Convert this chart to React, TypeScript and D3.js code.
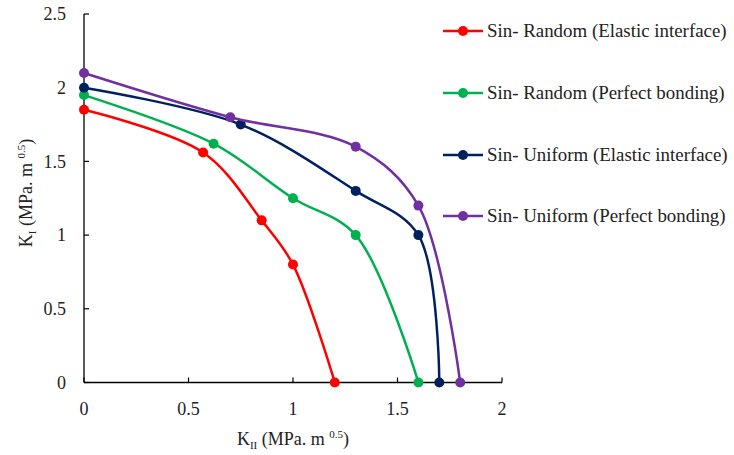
import * as d3 from "d3";

const seriesNames = [
  "Sin- Random (Elastic interface)",
  "Sin- Random (Perfect bonding)",
  "Sin- Uniform (Elastic interface)",
  "Sin- Uniform (Perfect bonding)",
];
const seriesColors = ["#ff0000", "#00b050", "#002060", "#7030a0"];

// K_II values (x) and K_I values (y) for each series
const kII = [
  [0, 0.57, 0.85, 1.0, 1.2],
  [0, 0.62, 1.0, 1.3, 1.6],
  [0, 0.75, 1.3, 1.6, 1.7],
  [0, 0.7, 1.3, 1.6, 1.8],
];
const kI = [
  [1.85, 1.56, 1.1, 0.8, 0],
  [1.95, 1.62, 1.25, 1.0, 0],
  [2.0, 1.75, 1.3, 1.0, 0],
  [2.1, 1.8, 1.6, 1.2, 0],
];
const xTicks = [0, 0.5, 1, 1.5, 2];
const yTicks = [0, 0.5, 1, 1.5, 2, 2.5];

const W = 734;
const H = 455;
const FONT = "'Liberation Serif', 'DejaVu Serif', serif";
const TXT = { fontFamily: FONT };

export default function App() {
  const x = d3.scaleLinear().domain([0, 2]).range([84, 502]);
  const y = d3.scaleLinear().domain([0, 2.5]).range([382.5, 14]);
  const line = d3
    .line<[number, number]>()
    .x((d) => x(d[0]))
    .y((d) => y(d[1]))
    .curve(d3.curveCatmullRom.alpha(0.5));

  const legendY = [31, 93, 155, 216];

  return (
    <svg
      width={W}
      height={H}
      style={{ position: "absolute", left: 0, top: 0, background: "#fff" }}
    >
      <rect width={W} height={H} fill="#fff" />

      {/* axes */}
      <line x1={x(0)} x2={x(0)} y1={y(0)} y2={y(2.5)} stroke="#000" strokeWidth={1.3} />
      <line x1={x(0)} x2={x(2)} y1={y(0)} y2={y(0)} stroke="#000" strokeWidth={1.3} />
      {yTicks.map((t) => (
        <g key={"y" + t}>
          <line x1={x(0)} x2={x(0) + 5} y1={y(t)} y2={y(t)} stroke="#000" strokeWidth={1.2} />
          <text x={66} y={y(t)} dy="0.35em" textAnchor="end" fontSize={18} fill="#222" style={TXT}>
            {t}
          </text>
        </g>
      ))}
      {xTicks.map((t) => (
        <g key={"x" + t}>
          <line x1={x(t)} x2={x(t)} y1={y(0)} y2={y(0) - 5} stroke="#000" strokeWidth={1.2} />
          <text x={x(t)} y={415} textAnchor="middle" fontSize={18} fill="#222" style={TXT}>
            {t}
          </text>
        </g>
      ))}

      {/* axis titles */}
      <text x={293} y={445} textAnchor="middle" fontSize={18} fill="#222" style={TXT}>
        K<tspan fontSize={11} dy={4}>II</tspan>
        <tspan dy={-4}> (MPa. m </tspan>
        <tspan fontSize={11} dy={-7}>0.5</tspan>
        <tspan dy={7}>)</tspan>
      </text>
      <text
        transform={`translate(32,193) rotate(-90)`}
        textAnchor="middle"
        fontSize={18}
        fill="#222"
        style={TXT}
      >
        K<tspan fontSize={11} dy={4}>I</tspan>
        <tspan dy={-4}> (MPa. m </tspan>
        <tspan fontSize={11} dy={-7}>0.5</tspan>
        <tspan dy={7}>)</tspan>
      </text>

      {/* series */}
      {seriesNames.map((name, i) => {
        const pts: [number, number][] = kII[i].map((v, j) => [v, kI[i][j]]);
        return (
          <g key={name}>
            <path d={line(pts) || ""} fill="none" stroke={seriesColors[i]} strokeWidth={2.5} />
            {pts.map((p, j) => (
              <circle key={j} cx={x(p[0])} cy={y(p[1])} r={5} fill={seriesColors[i]} />
            ))}
          </g>
        );
      })}

      {/* legend */}
      {seriesNames.map((name, i) => (
        <g key={"leg" + name} transform={`translate(0,${legendY[i]})`}>
          <line x1={443} x2={483} y1={0} y2={0} stroke={seriesColors[i]} strokeWidth={2.5} />
          <circle cx={463} cy={0} r={5} fill={seriesColors[i]} />
          <text
            transform="translate(487,0) scale(1.05,1)"
            dy="0.35em"
            fontSize={18}
            fill="#222"
            style={TXT}
          >
            {name}
          </text>
        </g>
      ))}
    </svg>
  );
}
